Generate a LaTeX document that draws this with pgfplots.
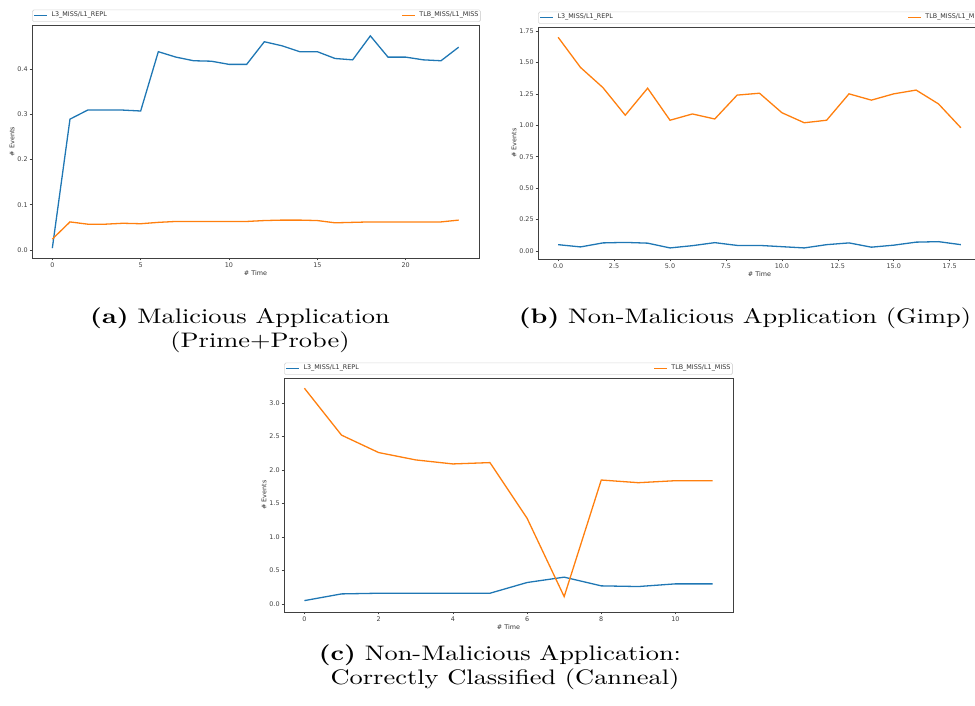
\documentclass[border=0pt]{standalone}
\usepackage{pgfplots}
\pgfplotsset{compat=1.18}
\usepackage{pgfplotstable}
\usepackage{fontspec}
\usepackage{graphicx}
\newfontfamily\mpl{DejaVu Sans}
\definecolor{mplblue}{HTML}{1F77B4}
\definecolor{mplorange}{HTML}{FF7F0E}
\newcommand{\mplfont}{\mpl\fontsize{3.2}{3.8}\selectfont}
\newcommand{\capfont}{\fontsize{10.5}{12.6}\selectfont}

\pgfplotstableread{
t blue orange
0 0.004 0.024
1 0.289 0.062
2 0.309 0.057
3 0.309 0.057
4 0.309 0.059
5 0.307 0.058
6 0.438 0.061
7 0.426 0.063
8 0.418 0.063
9 0.417 0.063
10 0.410 0.063
11 0.410 0.063
12 0.460 0.065
13 0.451 0.066
14 0.438 0.066
15 0.438 0.065
16 0.423 0.060
17 0.420 0.061
18 0.473 0.062
19 0.426 0.062
20 0.426 0.062
21 0.420 0.062
22 0.418 0.062
23 0.448 0.066
}\dataA

\pgfplotstableread{
t blue orange
0 0.050 1.700
1 0.032 1.460
2 0.064 1.300
3 0.068 1.080
4 0.062 1.295
5 0.024 1.040
6 0.042 1.090
7 0.066 1.050
8 0.044 1.240
9 0.044 1.255
10 0.034 1.100
11 0.024 1.020
12 0.050 1.040
13 0.064 1.250
14 0.030 1.200
15 0.046 1.250
16 0.070 1.280
17 0.074 1.170
18 0.050 0.980
}\dataB

\pgfplotstableread{
t blue orange
0 0.05 3.22
1 0.15 2.52
2 0.16 2.26
3 0.16 2.15
4 0.16 2.09
5 0.16 2.11
6 0.32 1.28
7 0.40 0.11
8 0.27 1.85
9 0.26 1.81
10 0.30 1.84
11 0.30 1.84
}\dataC

\pgfplotsset{mpl/.style={
  scale only axis, clip=true,
  axis line style={black!75, line width=0.4pt},
  tick pos=left, tick align=outside, major tick length=1.2pt,
  every tick/.style={black!75, line width=0.3pt},
  tick label style={font=\mplfont, text=black!75, inner sep=0.8pt},
  label style={font=\mplfont, text=black!80},
  /pgf/number format/assume math mode=true,
  xlabel={\# Time}, ylabel={\# Events},
  xlabel style={inner sep=0.5pt},
  ylabel style={inner sep=0.5pt},
  legend columns=2, legend cell align=left,
  legend image code/.code={\draw[##1] (0pt,0pt) -- (6.5pt,0pt);},
  legend style={at={(rel axis cs:0,1)}, anchor=south west, yshift=1.5pt,
     draw=black!15, line width=0.3pt, rounded corners=0.8pt, fill=white,
     inner sep=0.7pt, font=\mplfont, text=black!80,
     nodes={inner sep=0.3pt},
     /tikz/every odd column/.append style={column sep=1.5pt},
     /tikz/column 2/.style={column sep=147pt}},
}}
\tikzset{s1/.style={mplblue, line width=0.65pt}, s2/.style={mplorange, line width=0.65pt}}

\begin{document}
\begin{tikzpicture}
% (a)
\begin{axis}[mpl, at={(16pt,224pt)}, anchor=south west,
  width=223.5pt, height=116.5pt,
  xmin=-1.15, xmax=24.15, ymin=-0.0177, ymax=0.497,
  xtick={0,5,10,15,20}, ytick={0,0.1,0.2,0.3,0.4},
  yticklabel style={/pgf/number format/.cd, fixed, fixed zerofill, precision=1}]
\addplot[s1] table[x=t,y=blue] {\dataA};
\addlegendentry{L3\_MISS/L1\_REPL}
\addplot[s2] table[x=t,y=orange] {\dataA};
\addlegendentry{TLB\_MISS/L1\_MISS}
\end{axis}
% (b)
\begin{axis}[mpl, at={(269pt,223.5pt)}, anchor=south west,
  width=221.5pt, height=116pt,
  xmin=-0.9, xmax=18.9, ymin=-0.064, ymax=1.782,
  xtick={0,2.5,5,7.5,10,12.5,15,17.5}, ytick={0,0.25,0.5,0.75,1,1.25,1.5,1.75},
  xticklabel style={/pgf/number format/.cd, fixed, fixed zerofill, precision=1},
  yticklabel style={/pgf/number format/.cd, fixed, fixed zerofill, precision=2}]
\addplot[s1] table[x=t,y=blue] {\dataB};
\addlegendentry{L3\_MISS/L1\_REPL}
\addplot[s2] table[x=t,y=orange] {\dataB};
\addlegendentry{TLB\_MISS/L1\_MISS}
\end{axis}
% (c)
\begin{axis}[mpl, at={(142pt,47pt)}, anchor=south west,
  width=224.5pt, height=117pt,
  xmin=-0.55, xmax=11.55, ymin=-0.12, ymax=3.373,
  xtick={0,2,4,6,8,10}, ytick={0,0.5,1,1.5,2,2.5,3},
  yticklabel style={/pgf/number format/.cd, fixed, fixed zerofill, precision=1}]
\addplot[s1] table[x=t,y=blue] {\dataC};
\addlegendentry{L3\_MISS/L1\_REPL}
\addplot[s2] table[x=t,y=orange] {\dataC};
\addlegendentry{TLB\_MISS/L1\_MISS}
\end{axis}
% captions
\node[anchor=base, inner sep=0pt] at (120pt,191pt) {\capfont\scalebox{1.257}[1]{\textbf{(a)} Malicious Application}};
\node[anchor=base, inner sep=0pt] at (130pt,179pt) {\capfont\scalebox{1.257}[1]{(Prime+Probe)}};
\node[anchor=base, inner sep=0pt] at (372.5pt,191pt) {\capfont\scalebox{1.257}[1]{\textbf{(b)} Non-Malicious Application (Gimp)}};
\node[anchor=base, inner sep=0pt] at (250pt,22.5pt) {\capfont\scalebox{1.257}[1]{\textbf{(c)} Non-Malicious Application:}};
\node[anchor=base, inner sep=0pt] at (252.5pt,10.5pt) {\capfont\scalebox{1.257}[1]{Correctly Classified (Canneal)}};
\pgfresetboundingbox
\path[use as bounding box] (0pt,0pt) rectangle (487.5pt,353pt);
\end{tikzpicture}
\end{document}
